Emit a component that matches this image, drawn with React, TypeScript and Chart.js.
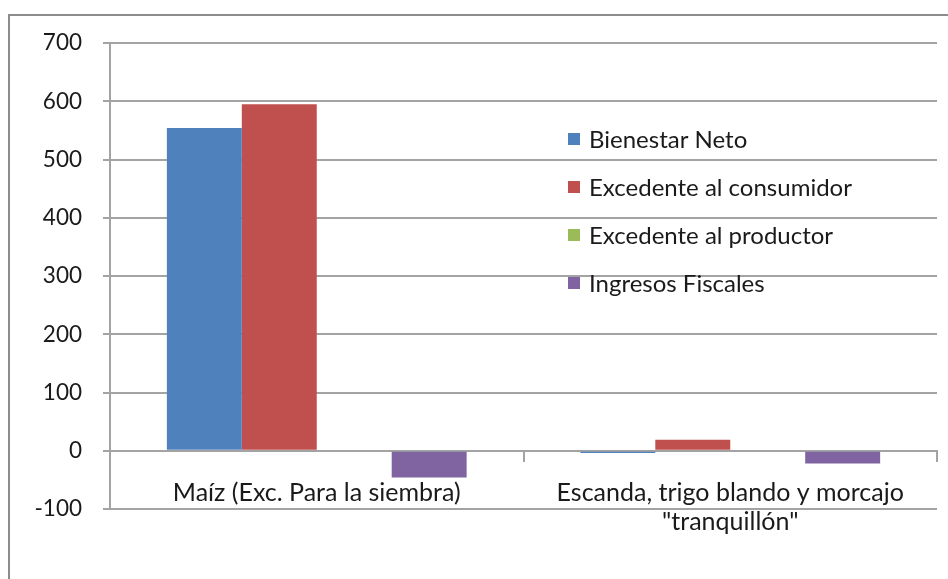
import React, { useEffect, useRef } from "react";
import { Chart, registerables } from "chart.js";

Chart.register(...registerables);

const categories: string[][] = [
  ["Maíz (Exc. Para la siembra)"],
  ["Escanda, trigo blando y morcajo", "\"tranquillón\""],
];
const seriesNames = [
  "Bienestar Neto",
  "Excedente al consumidor",
  "Excedente al productor",
  "Ingresos Fiscales",
];
const bienestarNeto = [554, -4];
const excedenteConsumidor = [595, 19];
const excedenteProductor = [0, 0];
const ingresosFiscales = [-46, -22];
const seriesColors = ["#4F81BD", "#C0504D", "#9BBB59", "#8064A2"];
const yMin = -100;
const yMax = 700;
const yStep = 100;

const FONT = "Lato";
const TEXT = "#1a1a1a";
const GRID = "#a3a3a3";

const framePlugin = {
  id: "frame",
  beforeDraw(chart: any) {
    const ctx = chart.ctx;
    ctx.save();
    ctx.fillStyle = "#ffffff";
    ctx.fillRect(0, 0, chart.width, chart.height);
    ctx.strokeStyle = "#8c8c8c";
    ctx.lineWidth = 2;
    ctx.beginPath();
    ctx.moveTo(9, chart.height);
    ctx.lineTo(9, 15);
    ctx.lineTo(chart.width, 15);
    ctx.stroke();
    ctx.restore();
  },
};

const legendPlugin = {
  id: "insideLegend",
  afterDraw(chart: any) {
    const ctx = chart.ctx;
    ctx.save();
    ctx.font = `24px ${FONT}`;
    ctx.textBaseline = "middle";
    ctx.textAlign = "left";
    chart.data.datasets.forEach((ds: any, i: number) => {
      const cy = 139 + i * 48;
      ctx.fillStyle = ds.backgroundColor;
      ctx.fillRect(568, cy - 6, 12, 12);
      ctx.fillStyle = TEXT;
      ctx.fillText(ds.label, 589, cy + 1);
    });
    ctx.restore();
  },
};

export default function App() {
  const ref = useRef<HTMLCanvasElement | null>(null);

  useEffect(() => {
    if (!ref.current) return;
    const seriesValues = [bienestarNeto, excedenteConsumidor, excedenteProductor, ingresosFiscales];
    const chart = new Chart(ref.current, {
      type: "bar",
      data: {
        labels: categories,
        datasets: seriesNames.map((name, i) => ({
          label: name,
          data: seriesValues[i],
          backgroundColor: seriesColors[i],
          borderWidth: 0,
          categoryPercentage: 0.725,
          barPercentage: 1,
        })),
      },
      options: {
        animation: false,
        responsive: true,
        maintainAspectRatio: false,
        layout: { padding: { left: 0, top: 43, right: 11, bottom: 70 } },
        plugins: {
          legend: { display: false },
          tooltip: { enabled: false },
        },
        scales: {
          x: {
            position: { y: 0 } as any,
            offset: true,
            grid: {
              drawOnChartArea: false,
              drawTicks: true,
              tickLength: 10,
              color: GRID,
              lineWidth: 2,
            },
            border: { display: true, color: GRID, width: 2 },
            ticks: {
              color: TEXT,
              font: { family: FONT, size: 25, lineHeight: 1.16 },
              padding: 18,
              maxRotation: 0,
              autoSkip: false,
            },
          },
          y: {
            min: yMin,
            max: yMax,
            afterFit: (s: any) => {
              s.width = 110;
            },
            grid: {
              color: GRID,
              lineWidth: 2,
              tickLength: 7,
              drawTicks: true,
            },
            border: { display: true, color: GRID, width: 2 },
            ticks: {
              stepSize: yStep,
              color: TEXT,
              padding: 21,
              font: { family: FONT, size: 22.5 },
            },
          },
        },
      },
      plugins: [framePlugin, legendPlugin],
    });
    return () => chart.destroy();
  }, []);

  return (
    <div style={{ position: "fixed", left: 0, top: 0, width: 948, height: 579, background: "#fff" }}>
      <canvas ref={ref} />
    </div>
  );
}
